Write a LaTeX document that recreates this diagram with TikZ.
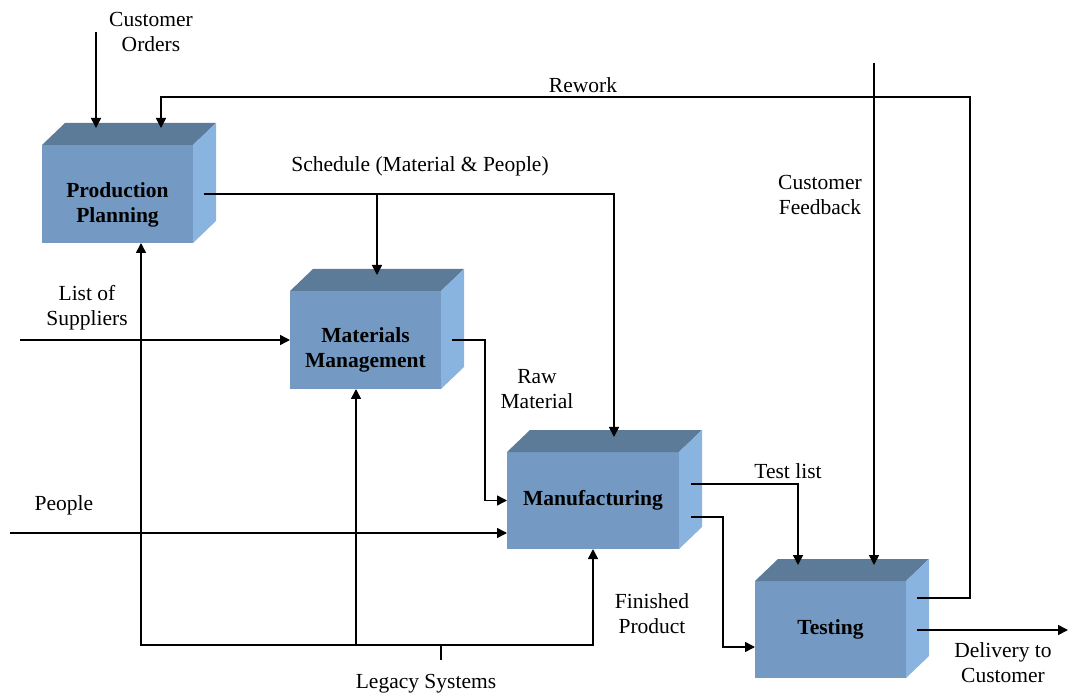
\documentclass[tikz,border=0pt]{standalone}
\usepackage{fontspec}
\setmainfont{Liberation Serif}
\usetikzlibrary{arrows.meta,calc}
\definecolor{frontc}{RGB}{116,154,195}
\definecolor{topc}{RGB}{92,123,153}
\definecolor{sidec}{RGB}{137,180,224}
\newcommand\cubebox[5]{%
  \node[frontface, minimum width=#4pt, minimum height=#5pt, anchor=north west] (#1) at (#2,#3) {};
  \fill[topc] (#1.north west) -- ++(23,-22) -- ++(#4,0) -- (#1.north east) -- cycle;
  \fill[sidec] (#1.north east) -- ++(23,-22) -- ++(0,#5) -- (#1.south east) -- cycle;
}
\begin{document}
\begin{tikzpicture}[x=1pt,y=-1pt,
  frontface/.style={rectangle, fill=frontc, inner sep=0pt, outer sep=0pt},
  lbl/.style={align=center, inner sep=0pt, font=\fontsize{21.5}{25}\selectfont},
  boxlbl/.style={align=center, inner sep=0pt, font=\fontsize{21.5}{25}\selectfont\bfseries},
  conn/.style={line width=1.5pt},
  arr/.style={conn, -{Triangle[length=10pt,width=10pt]}}]
\useasboundingbox (0,0) rectangle (1071,700);

% boxes
\cubebox{pp}{42}{145}{151}{98}
\cubebox{mm}{290}{291}{151}{98}
\cubebox{mf}{507}{452}{172}{97}
\cubebox{tt}{755}{581}{151}{97}

\node[boxlbl] (pplbl) at ([yshift=-11pt]pp.center) {Production\\Planning};
\node[boxlbl] (mmlbl) at ([yshift=-10pt]mm.center) {Materials\\Management};
\node[boxlbl] (mflbl) at (mf.center) {Manufacturing};
\node[boxlbl] (ttlbl) at (tt.center) {Testing};

% connection points
\coordinate (pp-topA) at ($(pp.north west)+(54,-17)$);
\coordinate (pp-topB) at ($(pp.north west)+(119,-17)$);
\coordinate (pp-side) at ($(pp.north east)+(11,49)$);
\coordinate (mm-top) at ($(mm.north west)+(87,-16)$);
\coordinate (mm-side) at ($(mm.north east)+(11,49)$);
\coordinate (mf-top) at ($(mf.north west)+(107,-15)$);
\coordinate (mf-sideA) at ($(mf.north east)+(12,32)$);
\coordinate (mf-sideB) at ($(mf.north east)+(12,65)$);
\coordinate (tt-topA) at ($(tt.north west)+(43,-16)$);
\coordinate (tt-topB) at ($(tt.north west)+(119,-16)$);
\coordinate (tt-sideA) at ($(tt.north east)+(11,17)$);
\coordinate (tt-sideB) at ($(tt.north east)+(11,49)$);
\coordinate (tt-in) at ($(tt.north west)+(0,66)$);

% free ends
\coordinate (co) at (96,32);
\coordinate (rwcorner) at (970,97);
\coordinate (cf) at (874,63);
\coordinate (ls) at (20,340);
\coordinate (pe) at (10,533);
\coordinate (dl) at (1068,630);
\coordinate (lg) at (441,660);
\coordinate (lgbar) at (441,645);

% connectors
\draw[arr] (co) -- (co |- pp-topA);
\draw[arr] (tt-sideA) -| (rwcorner) -| (pp-topB);
\draw[arr] (cf) -- (cf |- tt-topB);
\draw[arr] (pp-side) -| (mf-top);
\draw[arr] (mm-top |- pp-side) -- (mm-top);
\draw[arr] (ls) -- (ls -| mm.west);
\draw[arr] (mm-side) -| ($(mf.west)+(-22,0)$) -- (mf.west);
\draw[arr] (pe) -- (pe -| mf.west);
\draw[arr] (mf-sideA) -| (tt-topA);
\draw[arr] (mf-sideB) -| ($(tt-in)+(-32,0)$) -- (tt-in);
\draw[arr] (tt-sideB) -- (dl);
\draw[conn] (lg) -- (lgbar);
\draw[arr] (lgbar) -| ($(pp.south)+(23.5,0)$);
\draw[arr] (lgbar) -| ($(mm.south)+(-9.5,0)$);
\draw[arr] (lgbar) -| (mf.south);

% labels
\node[lbl] (colbl) at (151,32) {Customer\\Orders};
\node[lbl] (rwlbl) at (583,85) {Rework};
\node[lbl] (schlbl) at (420,166) {Schedule (Material \& People)};
\node[lbl] (cflbl) at (820,195) {Customer\\Feedback};
\node[lbl] (lslbl) at (87,308) {List of\\Suppliers};
\node[lbl] (rmlbl) at (537,389) {Raw\\Material};
\node[lbl] (pelbl) at (64,505) {People};
\node[lbl] (tllbl) at (788,471) {Test list};
\node[lbl] (fplbl) at (652,614) {Finished\\Product};
\node[lbl] (dllbl) at (1003,663) {Delivery to\\Customer};
\node[lbl] (lglbl) at (426,684) {Legacy Systems};
\end{tikzpicture}
\end{document}
